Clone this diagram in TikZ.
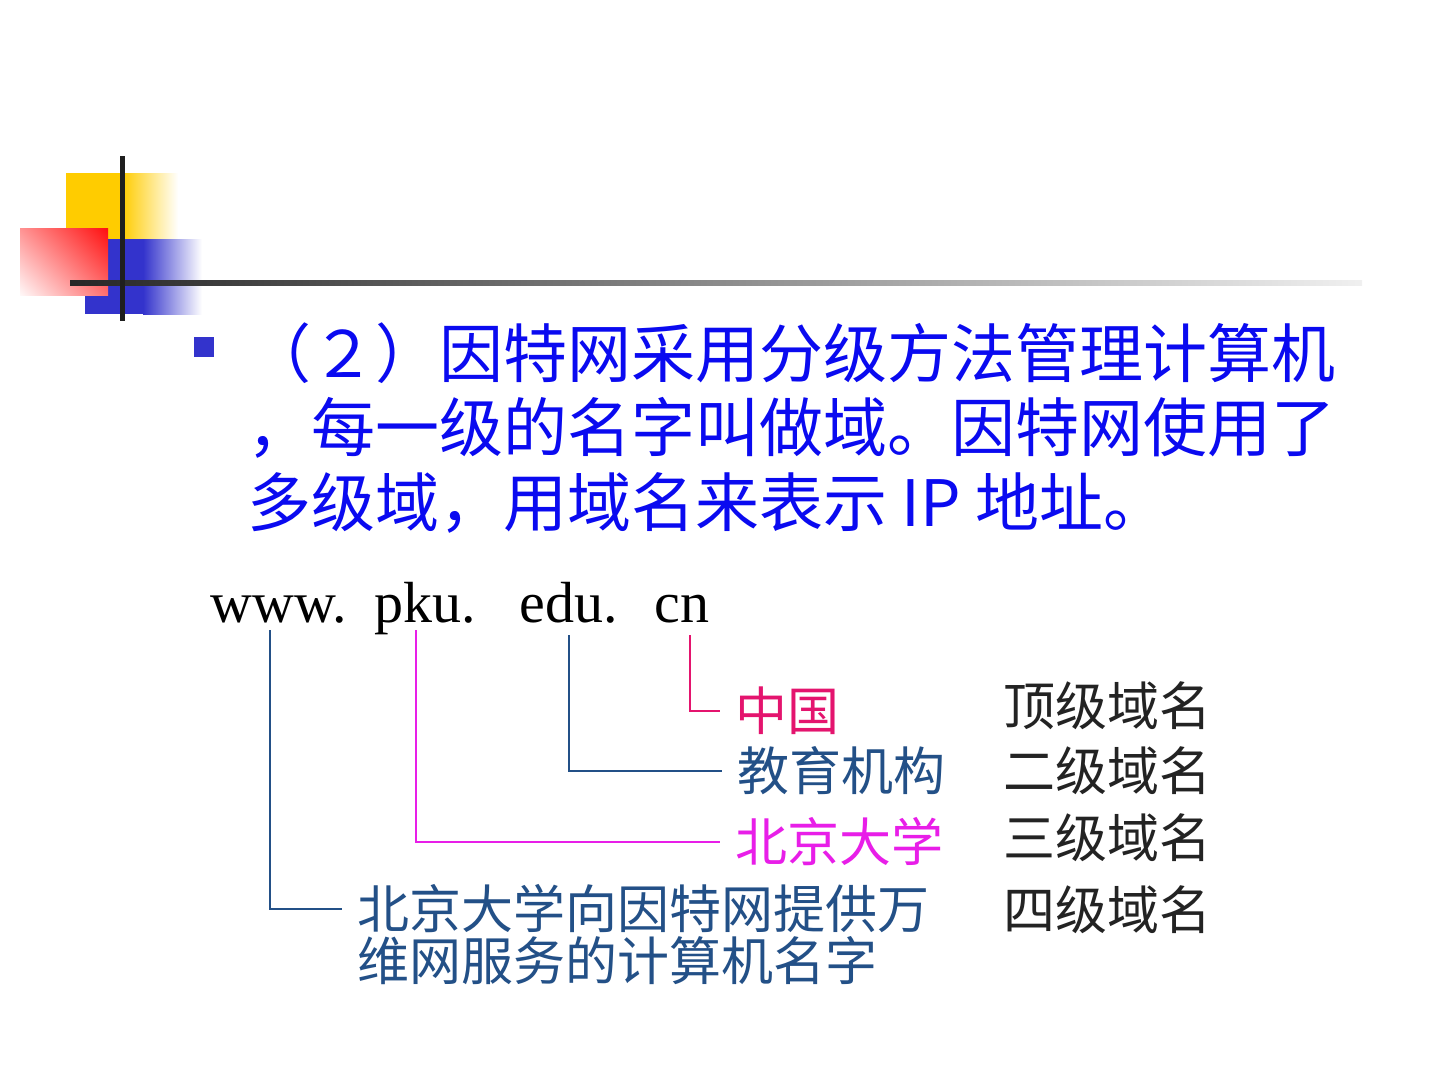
\documentclass[tikz,border=0pt]{standalone}
\usepackage{fontspec}
\newfontfamily\cjk{Noto Sans CJK SC}
\newfontfamily\urlfont{Liberation Serif}
\usetikzlibrary{positioning, shadings}
\definecolor{titleblue}{RGB}{10,10,240}
\definecolor{bulletblue}{RGB}{51,51,204}
\definecolor{decoyellow}{RGB}{255,204,0}
\definecolor{decored}{RGB}{255,15,15}
\definecolor{decoblue}{RGB}{51,51,204}
\definecolor{cnpink}{RGB}{228,20,110}
\definecolor{pkumag}{RGB}{232,30,232}
\definecolor{dnsblue}{RGB}{35,80,135}
\definecolor{levelgray}{RGB}{35,35,35}

\begin{document}
\begin{tikzpicture}[
    x=1pt, y=-1pt,
    textline/.style = {anchor=base west, inner sep=0pt, text=titleblue,
                       font=\cjk\fontsize{64}{74}\selectfont},
    urlpart/.style  = {anchor=base, inner xsep=0pt, inner ysep=8pt, text depth=0pt,
                       font=\urlfont\fontsize{58}{64}\selectfont},
    meaning/.style  = {anchor=west, inner sep=0pt,
                       font=\cjk\fontsize{52}{58}\selectfont},
    level/.style    = {meaning, text=levelgray},
    conn/.style     = {line width=1.5pt, shorten >=15pt}
]

\fill[white] (0,0) rectangle (1440,1080);
\useasboundingbox (0,0) rectangle (1440,1080);

%% -- Title decoration ---------------------------------------
\fill[decoyellow] (66,173) rectangle (122,240);
\shade[left color=decoyellow, right color=white] (122,173) rectangle (178,240);
\fill[decoblue] (85,239) rectangle (143,314);
\shade[left color=decoblue, right color=white] (143,239) rectangle (202,314);
\shade[upper right=decored, upper left=decored!45, lower right=decored!60,
       lower left=decored!3] (20,228) rectangle (108,295);
\shade[left color=black!85, right color=black!6] (70,280.5) rectangle (1362,285.5);
\fill[black!88] (120,156) rectangle (124.5,321);

%% -- Bullet text --------------------------------------------
\node[fill=bulletblue, minimum size=20pt, inner sep=0pt] (bullet) at (204,347) {};
\node[textline] (line1) at (247,377) {（２）因特网采用分级方法管理计算机};
\node[textline] (line2) at (247,451) {，每一级的名字叫做域。因特网使用了};
\node[textline] (line3) at (247,526) {多级域，用域名来表示 IP 地址。};

%% -- Domain name --------------------------------------------
\node[urlpart] (www) at (279,622) {www.};
\node[urlpart] (pku) at (425,622) {pku.};
\node[urlpart, inner ysep=13pt] (edu) at (569,622) {edu.};
\node[urlpart, inner ysep=13pt] (cn)  at (682,622) {cn};

%% -- Meanings -----------------------------------------------
\node[meaning, text=cnpink]  (zhongguo) at (735,711) {中国};
\node[meaning, text=dnsblue] (jiaoyu)   at (737,771) {教育机构};
\node[meaning, text=pkumag]  (beida)    at (735,842) {北京大学};
\node[meaning, text=dnsblue] (full1)    at (357,909) {北京大学向因特网提供万};
\node[meaning, text=dnsblue] (full2)    at (357,961) {维网服务的计算机名字};

%% -- Levels -------------------------------------------------
\node[level] (top)    at (1003,706) {顶级域名};
\node[level] (second) at (1003,771) {二级域名};
\node[level] (third)  at (1003,838) {三级域名};
\node[level] (fourth) at (1003,910) {四级域名};

%% -- Connectors ---------------------------------------------
\draw[conn, cnpink]  ([xshift=8pt]cn.south)   |- (zhongguo.west);
\draw[conn, dnsblue] (edu.south)              |- (jiaoyu.west);
\draw[conn, pkumag]  ([xshift=-9pt]pku.south) |- (beida.west);
\draw[conn, dnsblue] ([xshift=-9pt]www.south) |- (full1.west);

\end{tikzpicture}
\end{document}
